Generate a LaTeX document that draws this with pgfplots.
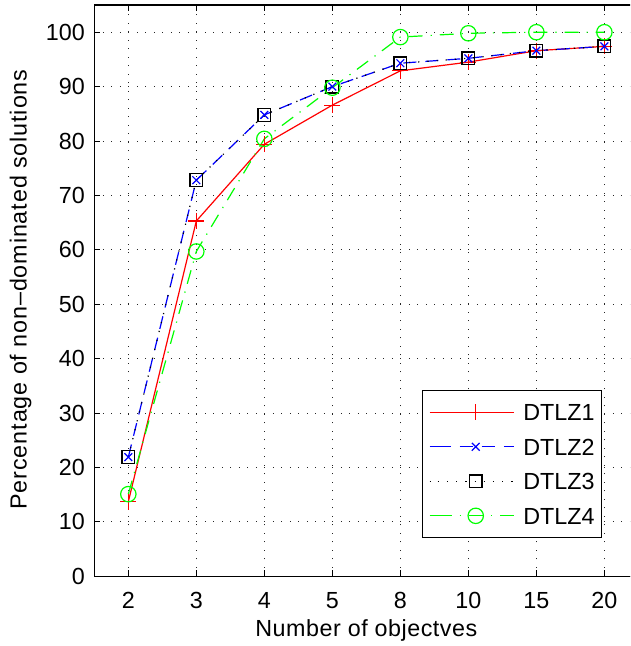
\documentclass[border=0pt]{standalone}
\usepackage{fontspec}
\setmainfont{Liberation Sans}
\usepackage{pgfplots}
\pgfplotsset{compat=1.18}
\newcommand{\bigf}{\fontsize{23.3}{27}\selectfont}
\begin{document}
\begin{tikzpicture}
\path[use as bounding box] (-94.3pt,-69.7pt) rectangle (535.7pt,576.2pt);
\clip (-94.3pt,-69.7pt) rectangle (535.7pt,576.2pt);
\begin{axis}[
  at={(0pt,0pt)}, anchor=south west,
  scale only axis, width=544pt, height=571.2pt,
  xmin=0.5, xmax=8.5, ymin=0, ymax=105,
  xtick={1,2,3,4,5,6,7,8}, xticklabels={2,3,4,5,8,10,15,20},
  ytick={0,10,20,30,40,50,60,70,80,90,100},
  tick align=inside, major tick length=6pt,
  grid=major,
  major grid style={black!85, line width=0.9pt, dash pattern=on 0.9pt off 7.6pt},
  axis line style={line width=1.5pt},
  every tick/.style={black, line width=1pt},
  tick label style={font=\bigf},
  /pgf/number format/assume math mode=true,
  xticklabel style={anchor=north, inner sep=0pt, yshift=-15.7pt},
  yticklabel style={anchor=east, inner sep=0pt, xshift=-9.3pt},
  xlabel={\addfontfeatures{LetterSpace=2.2}Number of objectves},
  xlabel style={font=\bigf, at={(axis description cs:0.5,0)}, anchor=north, inner sep=0pt, yshift=-43.5pt},
  ylabel={\addfontfeatures{LetterSpace=3.8}Percentage of non--dominated solutions},
  ylabel style={font=\bigf, at={(axis description cs:-0.12426,0.502)}, anchor=base, rotate=0, inner sep=0pt},
  legend style={at={(axis description cs:0.9327,0.0676)}, anchor=south east,
    draw=black, line width=1pt, fill=white, font=\bigf,
    inner xsep=6.7pt, inner ysep=13pt, row sep=17.8pt, column sep=9pt,
    nodes={inner sep=0pt, text height=16.7pt, text depth=0pt}},
  legend cell align=left,
  legend image code/.code={
    \path (0pt,0pt) -- (8pt,0pt);
    \draw[mark repeat=2,mark phase=2,#1] plot coordinates {(8pt,0pt) (46pt,0pt) (84pt,0pt)};
  },
]
\addplot[red, line width=1.2pt, mark=+, mark size=8pt, mark options={solid}]
  coordinates {(1,13.7) (2,65.3) (3,79.4) (4,86.6) (5,92.9) (6,94.5) (7,96.6) (8,97.4)};
\addlegendentry{DTLZ1}
\addplot[blue, line width=1.2pt, dash pattern=on 13pt off 9pt, mark=x, mark size=5.5pt, mark options={solid}]
  coordinates {(1,21.9) (2,72.8) (3,84.8) (4,90.0) (5,94.3) (6,95.2) (7,96.6) (8,97.4)};
\addlegendentry{DTLZ2}
\addplot[black, line width=1.2pt, dash pattern=on 1.2pt off 8pt, mark=square, mark size=6.3pt, mark options={solid}]
  coordinates {(1,21.9) (2,72.8) (3,84.8) (4,90.0) (5,94.3) (6,95.2) (7,96.6) (8,97.4)};
\addlegendentry{DTLZ3}
\addplot[green, line width=1.2pt, dash pattern=on 14pt off 8pt on 1.2pt off 8pt, mark=o, mark size=7.7pt, mark options={solid}]
  coordinates {(1,15.1) (2,59.7) (3,80.4) (4,89.8) (5,99.1) (6,99.8) (7,100) (8,100)};
\addlegendentry{DTLZ4}
\end{axis}
\end{tikzpicture}
\end{document}
